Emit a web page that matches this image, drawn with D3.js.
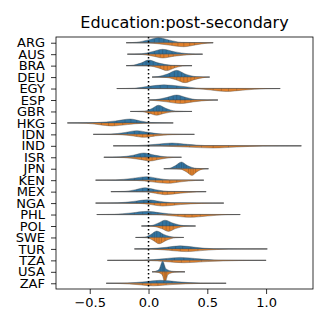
<!DOCTYPE html>
<html>
<head>
<meta charset="utf-8">
<script src="https://cdn.jsdelivr.net/npm/d3@7"></script>
<style>
body { margin: 0; background: #fff; }
text { font-family: "DejaVu Sans", sans-serif; fill: #000; }
</style>
</head>
<body>
<svg id="chart" width="328" height="328"></svg>
<script>
var title = "Education:post-secondary";
var countries = ["ARG","AUS","BRA","DEU","EGY","ESP","GBR","HKG","IDN","IND","ISR",
                 "JPN","KEN","MEX","NGA","PHL","POL","SWE","TUR","TZA","USA","ZAF"];
var xTicks = [-0.5, 0, 0.5, 1.0];

// upper (blue) half: [value, density] profile per country
var blueHalf = [
  [[-0.19,0],[-0.1,0.5],[-0.01,2.6],[0.085,5],[0.18,2.6],[0.28,0.4],[0.55,0]],
  [[-0.18,0],[-0.06,0.4],[0.03,2.5],[0.12,4.9],[0.22,2.5],[0.34,0.4],[0.46,0]],
  [[-0.19,0],[-0.13,0.5],[-0.06,2.8],[0.0,5.6],[0.08,2.8],[0.2,0.4],[0.37,0]],
  [[0.03,0],[0.08,0.5],[0.16,3],[0.24,6.8],[0.31,3.2],[0.41,0.4],[0.52,0]],
  [[-0.27,0],[-0.12,0.4],[0.0,2.2],[0.13,3.7],[0.27,2.4],[0.45,0.3],[1.12,0]],
  [[0,0],[0.06,0.4],[0.15,2.4],[0.24,5],[0.32,2.5],[0.42,0.3],[0.59,0]],
  [[-0.155,0],[-0.03,0.4],[0.03,3],[0.085,6.2],[0.15,3],[0.23,0.4],[0.37,0]],
  [[-0.69,0],[-0.44,0.4],[-0.28,2],[-0.155,3.9],[-0.07,2],[0.03,0.3],[0.21,0]],
  [[-0.47,0],[-0.32,0.3],[-0.2,1.9],[-0.1,3.7],[0.0,2],[0.12,0.3],[0.39,0]],
  [[-0.3,0],[-0.09,0.3],[0.06,1.5],[0.2,2.8],[0.33,1.5],[0.48,0.3],[1.3,0]],
  [[-0.38,0],[-0.24,0.4],[-0.13,2.1],[-0.04,4.3],[0.05,2.2],[0.16,0.3],[0.28,0]],
  [[0.13,0],[0.18,0.5],[0.23,3.2],[0.28,6.7],[0.33,3.2],[0.41,0.4],[0.51,0]],
  [[-0.45,0],[-0.28,0.3],[-0.14,1.8],[-0.015,3.5],[0.08,1.8],[0.18,0.3],[0.47,0]],
  [[-0.32,0],[-0.2,0.3],[-0.11,2],[-0.03,3.9],[0.06,2],[0.17,0.3],[0.49,0]],
  [[-0.45,0],[-0.26,0.3],[-0.13,1.7],[-0.01,3.3],[0.1,1.7],[0.22,0.3],[0.64,0]],
  [[-0.44,0],[-0.29,0.3],[-0.15,1.6],[-0.01,3.2],[0.1,1.7],[0.24,0.3],[0.78,0]],
  [[-0.06,0],[0.02,0.4],[0.08,2.8],[0.14,5.8],[0.21,2.8],[0.3,0.4],[0.4,0]],
  [[-0.11,0],[-0.03,0.4],[0.02,3],[0.07,6.4],[0.13,3],[0.22,0.3],[0.3,0]],
  [[-0.12,0],[0.01,0.3],[0.15,1.6],[0.27,3.1],[0.4,1.6],[0.55,0.2],[1.01,0]],
  [[-0.35,0],[-0.04,0.3],[0.12,1.5],[0.27,3],[0.43,1.5],[0.6,0.2],[1.0,0]],
  [[0.03,0],[0.06,0.6],[0.09,2.5],[0.12,10.7],[0.15,2.8],[0.21,0.5],[0.31,0]],
  [[-0.36,0],[-0.18,0.3],[-0.03,1.6],[0.1,3],[0.25,1.5],[0.44,0.2],[0.66,0]]
];

// lower (orange) half
var orangeHalf = [
  [[-0.19,0],[0.0,0.3],[0.15,2],[0.3,4],[0.4,2.2],[0.5,0.4],[0.55,0]],
  [[-0.18,0],[-0.05,0.4],[0.04,2],[0.12,3.8],[0.22,2],[0.38,0.3],[0.46,0]],
  [[-0.19,0],[0.0,0.3],[0.09,2.5],[0.156,5],[0.22,2.4],[0.29,0.4],[0.37,0]],
  [[0.03,0],[0.15,0.4],[0.23,2.6],[0.31,5.6],[0.39,2.6],[0.48,0.3],[0.52,0]],
  [[-0.27,0],[0.4,0.2],[0.53,1.5],[0.66,3],[0.8,1.6],[1.0,0.2],[1.12,0]],
  [[0,0],[0.03,0.3],[0.15,1.8],[0.27,3.6],[0.38,1.9],[0.52,0.3],[0.59,0]],
  [[-0.155,0],[-0.05,0.4],[0.01,2],[0.07,3.8],[0.13,2],[0.22,0.4],[0.37,0]],
  [[-0.69,0],[-0.53,0.4],[-0.42,1.8],[-0.31,3.1],[-0.18,1.7],[-0.04,0.3],[0.21,0]],
  [[-0.47,0],[-0.25,0.3],[-0.13,1.6],[-0.04,3],[0.06,1.6],[0.2,0.3],[0.39,0]],
  [[-0.3,0],[0.1,0.3],[0.33,1.3],[0.55,2.2],[0.75,1.2],[0.97,0.2],[1.3,0]],
  [[-0.38,0],[-0.21,0.4],[-0.09,1.9],[0.015,3.7],[0.1,1.9],[0.2,0.3],[0.28,0]],
  [[0.13,0],[0.27,0.4],[0.32,3],[0.37,6.7],[0.41,3.2],[0.46,0.4],[0.51,0]],
  [[-0.45,0],[-0.1,0.3],[0.03,1.7],[0.16,3.2],[0.28,1.6],[0.4,0.3],[0.47,0]],
  [[-0.32,0],[-0.02,0.3],[0.06,1.7],[0.14,3.1],[0.27,1.6],[0.41,0.3],[0.49,0]],
  [[-0.45,0],[-0.08,0.3],[0.02,1.5],[0.12,3],[0.27,1.5],[0.45,0.3],[0.64,0]],
  [[-0.44,0],[0.07,0.3],[0.22,1.5],[0.35,2.8],[0.5,1.5],[0.66,0.2],[0.78,0]],
  [[-0.06,0],[0.04,0.4],[0.11,2.6],[0.17,5.4],[0.23,2.6],[0.32,0.3],[0.4,0]],
  [[-0.11,0],[-0.01,0.4],[0.04,3],[0.09,6.3],[0.15,3],[0.23,0.3],[0.3,0]],
  [[-0.12,0],[0.03,0.3],[0.17,1.4],[0.32,2.7],[0.48,1.4],[0.68,0.2],[1.01,0]],
  [[-0.35,0],[0.0,0.2],[0.15,1.3],[0.3,2.4],[0.5,1.2],[0.77,0.2],[1.0,0]],
  [[0.03,0],[0.08,0.6],[0.115,2.8],[0.14,11],[0.165,2.8],[0.22,0.5],[0.31,0]],
  [[-0.36,0],[-0.24,0.3],[-0.09,1.4],[0.04,2.6],[0.2,1.3],[0.43,0.2],[0.66,0]]
];

// individual observations drawn as sticks inside each half
var blueSticks = [
  [0.0,0.05,0.09,0.13,0.17],[0.05,0.09,0.12,0.15,0.2],[-0.05,-0.02,0.01,0.04,0.08],
  [0.18,0.22,0.25,0.28,0.31],[0.02,0.1,0.16,0.24],[0.17,0.21,0.24,0.27,0.31],
  [0.04,0.07,0.09,0.12,0.15],[-0.27,-0.2,-0.15,-0.1],[-0.18,-0.12,-0.08,-0.02],
  [0.1,0.18,0.25,0.32],[-0.12,-0.07,-0.03,0.02],[0.24,0.26,0.28,0.3,0.32],
  [-0.12,-0.05,0.0,0.06],[-0.1,-0.05,-0.01,0.04],[-0.1,-0.04,0.02,0.08],
  [-0.12,-0.05,0.02,0.08],[0.09,0.12,0.15,0.18,0.21],[0.03,0.05,0.07,0.1,0.12],
  [0.17,0.23,0.29,0.36],[0.15,0.22,0.3,0.38],[0.1,0.115,0.125,0.135],[0.0,0.07,0.13,0.2]
];
var orangeSticks = [
  [0.2,0.25,0.3,0.35,0.39],[0.06,0.1,0.13,0.17,0.21],[0.1,0.13,0.16,0.19,0.22],
  [0.24,0.27,0.3,0.33,0.36,0.39],[0.55,0.62,0.68,0.75],[0.18,0.23,0.27,0.31,0.36],
  [0.02,0.05,0.08,0.11],[-0.4,-0.34,-0.29,-0.22],[-0.1,-0.05,-0.01,0.04],
  [0.35,0.45,0.55,0.68],[-0.06,-0.02,0.03,0.07],[0.34,0.36,0.38,0.4],
  [0.06,0.12,0.18,0.24],[0.08,0.12,0.16,0.22],[0.05,0.1,0.15,0.22],
  [0.25,0.31,0.37,0.44],[0.12,0.15,0.18,0.21],[0.05,0.07,0.09,0.11,0.14],
  [0.2,0.27,0.34,0.42],[0.2,0.28,0.35,0.45],[0.12,0.135,0.145,0.155],[-0.05,0.02,0.08,0.15]
];

var margin = {top: 37, right: 15, bottom: 39, left: 56};
var svg = d3.select("#chart");
var width = 328 - margin.left - margin.right,
    height = 328 - margin.top - margin.bottom;
var g = svg.append("g").attr("transform", "translate(" + margin.left + "," + margin.top + ")");

var x = d3.scaleLinear().domain([-0.787, 1.399]).range([0, width]);
var y = d3.scalePoint().domain(countries).range([0, height]).padding(0.5);
var dens = d3.scaleLinear().domain([0, 11.5]).range([0, y.step()]);

var blue = "#3274a1", orange = "#e1812c";

// thin range line behind each violin
g.selectAll(".range").data(countries).enter().append("line")
  .attr("x1", function(d, i) { return x(blueHalf[i][0][0]); })
  .attr("x2", function(d, i) { return x(blueHalf[i][blueHalf[i].length - 1][0]); })
  .attr("y1", function(d) { return y(d); })
  .attr("y2", function(d) { return y(d); })
  .attr("stroke", "#bcbcbc")
  .attr("stroke-width", 0.9);

function halfArea(sign) {
  return d3.area()
    .curve(d3.curveMonotoneX)
    .x(function(p) { return x(p[0]); })
    .y0(0)
    .y1(function(p) { return sign * dens(p[1]); });
}

function drawHalf(row, profile, sticks, sign, color) {
  row.append("path").datum(profile)
    .attr("d", halfArea(sign))
    .attr("fill", color).attr("stroke", "#4a4a4a").attr("stroke-width", 0.4);
  var h = d3.scaleLinear()
    .domain(profile.map(function(p) { return p[0]; }))
    .range(profile.map(function(p) { return p[1]; }));
  row.selectAll(null).data(sticks).enter().append("line")
    .attr("x1", function(v) { return x(v); })
    .attr("x2", function(v) { return x(v); })
    .attr("y1", 0)
    .attr("y2", function(v) { return sign * dens(h(v)) * 0.95; })
    .attr("stroke", "#2a2a2a").attr("stroke-opacity", 0.45).attr("stroke-width", 0.5);
}

countries.forEach(function(c, i) {
  var row = g.append("g").attr("transform", "translate(0," + y(c) + ")");
  drawHalf(row, blueHalf[i], blueSticks[i], -1, blue);
  drawHalf(row, orangeHalf[i], orangeSticks[i], 1, orange);
});

// zero reference line
g.append("line")
  .attr("x1", x(0)).attr("x2", x(0))
  .attr("y1", 0).attr("y2", height)
  .attr("stroke", "#000").attr("stroke-width", 1.5)
  .attr("stroke-dasharray", "1.5,2.5");

// axes
var xAxis = g.append("g").attr("transform", "translate(0," + height + ")")
  .call(d3.axisBottom(x).tickValues(xTicks).tickSize(5).tickPadding(4)
    .tickFormat(function(d) { return d3.format(".1f")(d).replace("-", "\u2212"); }));
var yAxis = g.append("g")
  .call(d3.axisLeft(y).tickSize(5).tickPadding(6));

[xAxis, yAxis].forEach(function(a) {
  a.select(".domain").remove();
  a.selectAll(".tick line").attr("stroke", "#000").attr("stroke-width", 0.8);
  a.selectAll(".tick text").attr("font-size", 13).attr("font-family", "DejaVu Sans").attr("fill", "#000");
});

g.append("rect")
  .attr("width", width).attr("height", height)
  .attr("fill", "none").attr("stroke", "#000").attr("stroke-width", 0.8);

svg.append("text")
  .attr("x", margin.left + width / 2).attr("y", 28)
  .attr("text-anchor", "middle")
  .attr("font-size", 16)
  .text(title);
</script>
</body>
</html>
